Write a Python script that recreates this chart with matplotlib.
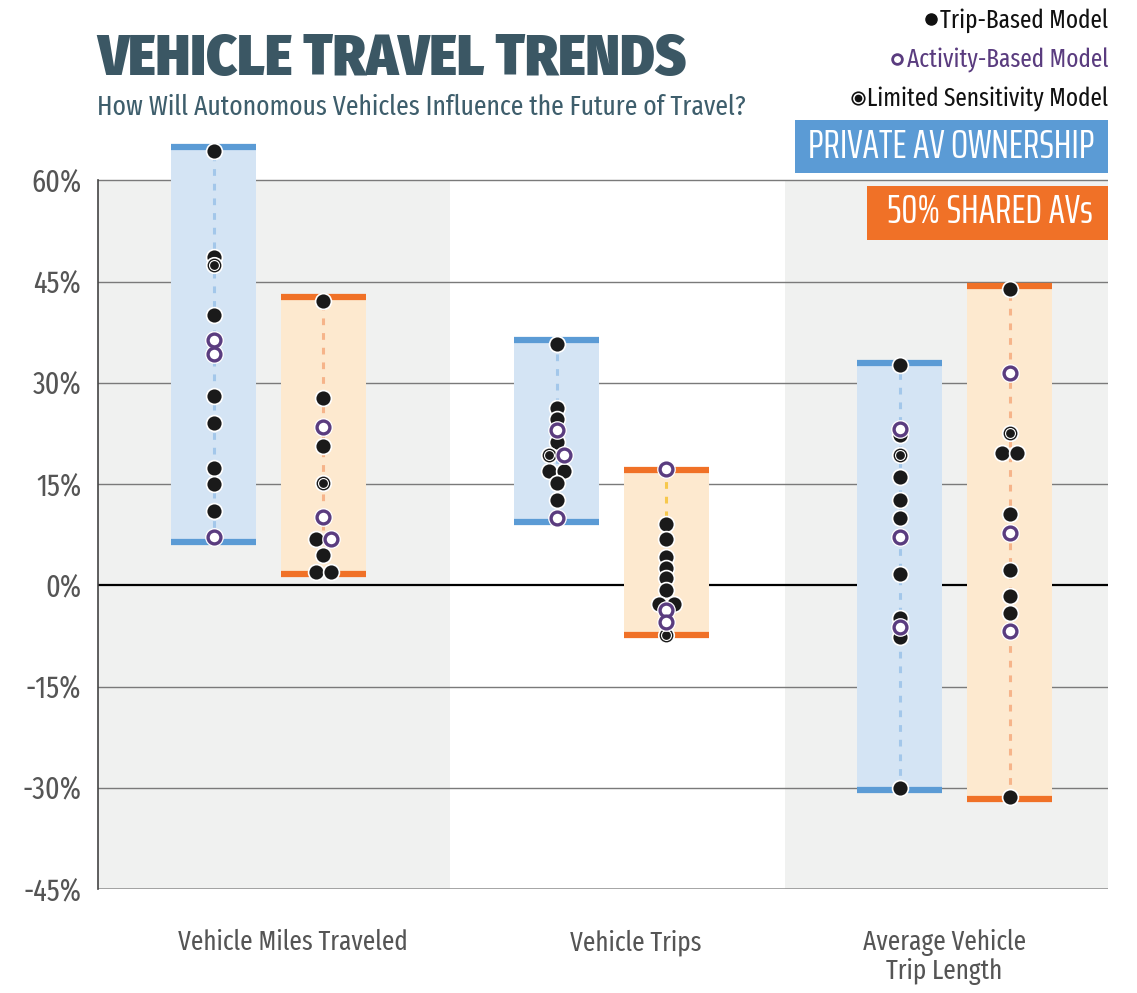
import matplotlib
matplotlib.use('Agg')
import matplotlib.pyplot as plt
from matplotlib.patches import Rectangle
import numpy as np

COND = ['Fira Sans Extra Condensed', 'DejaVu Sans']
plt.rcParams['font.family'] = COND

# categories and scenario ranges (percent change)
categories = ['Vehicle Miles Traveled', 'Vehicle Trips', 'Average Vehicle\nTrip Length']
private_low = [6.4, 9.4, -30.4]
private_high = [65.0, 36.3, 32.9]
shared_low = [1.6, -7.4, -31.6]
shared_high = [42.7, 17.1, 44.4]

# model results: private AV ownership
vmt_private_trip = [64.4, 48.7, 40.0, 28.0, 24.0, 17.4, 15.0, 11.0]
vmt_private_activity = [36.4, 34.2, 7.2]
vmt_private_limited = [47.5]
trips_private_trip = [35.8, 26.3, 24.7, 21.2, 16.9, 16.9, 15.1, 12.6]
trips_private_activity = [23.0, 19.3, 9.9]
trips_private_limited = [19.3]
len_private_trip = [32.6, 22.2, 16.0, 12.6, 9.9, 1.7, -4.8, -7.6, -30.1]
len_private_activity = [23.1, 7.2, -6.2]
len_private_limited = [19.3]

# model results: 50% shared AVs
vmt_shared_trip = [42.1, 27.7, 20.7, 6.8, 4.5, 2.0, 2.0]
vmt_shared_activity = [23.5, 10.1, 6.9]
vmt_shared_limited = [15.2]
trips_shared_trip = [9.1, 6.8, 4.2, 2.5, 1.1, -0.7, -2.7, -2.7]
trips_shared_activity = [17.2, -3.7, -5.4]
trips_shared_limited = [-7.4]
len_shared_trip = [43.9, 19.6, 19.6, 10.5, 2.2, -1.6, -4.1, -31.3]
len_shared_activity = [31.5, 7.7, -6.8]
len_shared_limited = [22.5]

private = [(vmt_private_trip, vmt_private_activity, vmt_private_limited),
           (trips_private_trip, trips_private_activity, trips_private_limited),
           (len_private_trip, len_private_activity, len_private_limited)]
shared = [(vmt_shared_trip, vmt_shared_activity, vmt_shared_limited),
          (trips_shared_trip, trips_shared_activity, trips_shared_limited),
          (len_shared_trip, len_shared_activity, len_shared_limited)]

yticks = [60, 45, 30, 15, 0, -15, -30, -45]

BLUE = '#5b9bd5'
BLUE_FILL = '#d4e4f4'
BLUE_DOT = '#a3c7ea'
ORANGE = '#f07127'
ORANGE_FILL = '#fde9cf'
ORANGE_DOTS = ['#f6b48a', '#f7c84c', '#f6b48a']
PURPLE = '#5a3c7f'
SLATE = '#3b5764'
GRAY_BG = '#f0f1f0'

fig = plt.figure(figsize=(11.37, 9.93), dpi=100)
ax = fig.add_axes([0.0862, 0.1047, 0.8883, 0.7545])
ax.set_xlim(-0.497, 2.447)
ax.set_ylim(-45, 66)

# background bands and grid
for x0, x1 in [(-0.497, 0.529), (1.506, 2.447)]:
    ax.add_patch(Rectangle((x0, -45), x1 - x0, 105, facecolor=GRAY_BG, edgecolor='none', zorder=0))
for v in yticks[:-1]:
    if v == 0:
        ax.axhline(v, color='black', lw=1.6, zorder=1)
    else:
        ax.axhline(v, color='#7a7a7a', lw=1.0, zorder=1)
ax.axhline(-45, color='#8a8a8a', lw=1.8, zorder=1)

box_w = 0.248
shift = 0.16


def swarm_offsets(vals, step=0.044, tol=0.5):
    order = np.argsort(vals, kind='stable')
    offs = np.zeros(len(vals))
    clusters = []
    for i in order:
        if clusters and abs(vals[i] - vals[clusters[-1][-1]]) < tol:
            clusters[-1].append(i)
        else:
            clusters.append([i])
    for c in clusters:
        c = sorted(c)
        n = len(c)
        for k, i in enumerate(c):
            offs[i] = (k - (n - 1) / 2) * step
    return offs


def draw_box(xc, low, high, fill, edge, dot, series):
    ax.add_patch(Rectangle((xc - box_w / 2, low), box_w, high - low,
                           facecolor=fill, edgecolor='none', zorder=2))
    ax.plot([xc - box_w / 2, xc + box_w / 2], [high, high], color=edge, lw=4.5,
            solid_capstyle='butt', zorder=3, clip_on=False)
    ax.plot([xc - box_w / 2, xc + box_w / 2], [low, low], color=edge, lw=4.5,
            solid_capstyle='butt', zorder=3, clip_on=False)
    ax.plot([xc, xc], [low, high], color=dot, lw=2.2, ls=(0, (2.2, 2.6)), zorder=3)

    trip, activity, limited = series
    vals = np.array(list(trip) + list(limited) + list(activity), dtype=float)
    kinds = np.array(['t'] * len(trip) + ['l'] * len(limited) + ['a'] * len(activity))
    xs = xc + swarm_offsets(vals)
    m = kinds == 't'
    ax.scatter(xs[m], vals[m], s=130, color='#1a1a1a', edgecolors='white',
               linewidths=1.2, zorder=5, clip_on=False)
    m = kinds == 'l'
    ax.scatter(xs[m], vals[m], s=125, color='white', edgecolors='white',
               linewidths=1.2, zorder=6, clip_on=False)
    ax.scatter(xs[m], vals[m], s=80, color='white', edgecolors='#1a1a1a',
               linewidths=1.0, zorder=6, clip_on=False)
    ax.scatter(xs[m], vals[m], s=28, color='#1a1a1a', zorder=6, clip_on=False)
    m = kinds == 'a'
    ax.scatter(xs[m], vals[m], s=155, color='white', edgecolors='white',
               linewidths=1.0, zorder=7, clip_on=False)
    ax.scatter(xs[m], vals[m], s=85, color='white', edgecolors=PURPLE,
               linewidths=2.4, zorder=7, clip_on=False)


for i in range(len(categories)):
    draw_box(i - shift, private_low[i], private_high[i], BLUE_FILL, BLUE, BLUE_DOT, private[i])
    draw_box(i + shift, shared_low[i], shared_high[i], ORANGE_FILL, ORANGE, ORANGE_DOTS[i], shared[i])

for s in ['top', 'right', 'bottom']:
    ax.spines[s].set_visible(False)
ax.spines['left'].set_color('#444444')
ax.spines['left'].set_linewidth(1.2)
ax.spines['left'].set_bounds(-45, 60)

ax.set_yticks(yticks)
ax.set_yticklabels([f'{v}%' for v in yticks], fontsize=22, color='#555555')
ax.tick_params(axis='y', length=0, pad=12)
ax.set_xticks([0.07, 1.07, 1.97])
ax.set_xticklabels(categories, fontsize=19.7, color='#555555', linespacing=1.05)
ax.tick_params(axis='x', length=0, pad=29)

# title block
fig.text(0.0853, 0.924, 'VEHICLE TRAVEL TRENDS', fontsize=42, fontweight=900,
         family=['Fira Sans Condensed', 'DejaVu Sans'], color=SLATE, va='baseline', ha='left')
fig.text(0.0853, 0.884, 'How Will Autonomous Vehicles Influence the Future of Travel?',
         fontsize=20, color='#3e5e6c', va='baseline', ha='left')

# legend: text right-aligned, marker placed just left of each text
renderer = fig.canvas.get_renderer()
legend_items = [('Trip-Based Model', '#111111', 0.972),
                ('Activity-Based Model', PURPLE, 0.9325),
                ('Limited Sensitivity Model', '#111111', 0.893)]
for k, (label, col, yb) in enumerate(legend_items):
    t = fig.text(0.9745, yb, label, fontsize=18.2, color=col, ha='right', va='baseline')
    bb = t.get_window_extent(renderer).transformed(fig.transFigure.inverted())
    mx = bb.x0 - 0.008
    my = yb + 0.0085
    if k == 0:
        fig.lines.append(plt.Line2D([mx], [my], transform=fig.transFigure,
                                    marker='o', ms=8, color='#111111'))
    elif k == 1:
        fig.lines.append(plt.Line2D([mx], [my], transform=fig.transFigure,
                                    marker='o', ms=7, mfc='white', mec=PURPLE, mew=2))
    else:
        fig.lines.append(plt.Line2D([mx], [my], transform=fig.transFigure,
                                    marker='o', ms=9, mfc='white', mec='#111111', mew=1.2))
        fig.lines.append(plt.Line2D([mx], [my], transform=fig.transFigure,
                                    marker='o', ms=4.5, color='#111111'))

# scenario labels
fig.patches.append(Rectangle((795 / 1137, 1 - 173 / 993), 313 / 1137, 53 / 993,
                             transform=fig.transFigure, facecolor=BLUE, edgecolor='none'))
fig.text(951 / 1137, 1 - 147 / 993, 'PRIVATE AV OWNERSHIP', fontsize=29, color='white',
         family=['Saira ExtraCondensed', 'DejaVu Sans'], ha='center', va='center')
fig.patches.append(Rectangle((867 / 1137, 1 - 240 / 993), 241 / 1137, 54 / 993,
                             transform=fig.transFigure, facecolor=ORANGE, edgecolor='none'))
fig.text(990 / 1137, 1 - 212 / 993, '50% SHARED AVs', fontsize=29, color='white',
         family=['Saira ExtraCondensed', 'DejaVu Sans'], ha='center', va='center')

fig.savefig('out.png', dpi=100)
